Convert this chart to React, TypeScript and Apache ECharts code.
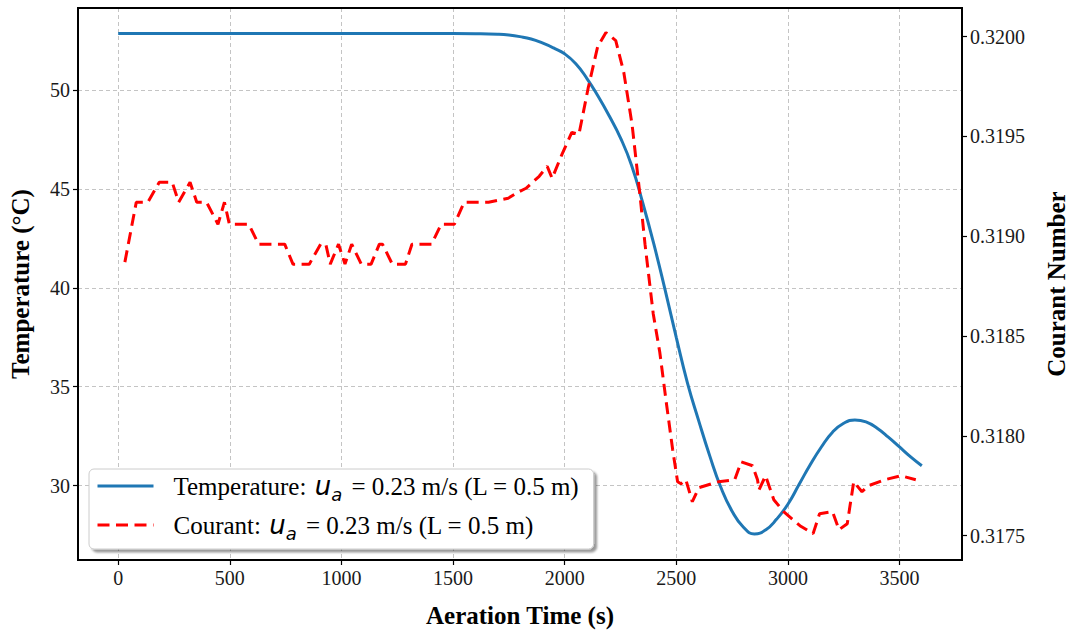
import React, { useEffect, useRef } from "react";
import * as echarts from "echarts";

// Temperature series (time s, temperature °C)
const tempTime = [0, 100, 200, 300, 400, 500, 600, 700, 800, 900, 1000, 1100, 1200, 1300, 1400, 1500, 1600, 1700, 1750, 1800, 1850, 1900, 1950, 2000, 2050, 2100, 2150, 2200, 2250, 2300, 2350, 2400, 2450, 2500, 2550, 2600, 2650, 2700, 2750, 2800, 2850, 2900, 2950, 3000, 3050, 3100, 3150, 3200, 3250, 3300, 3350, 3400, 3450, 3500, 3550, 3600];
const tempValues = [52.88, 52.88, 52.88, 52.88, 52.88, 52.88, 52.88, 52.88, 52.88, 52.88, 52.88, 52.88, 52.88, 52.88, 52.88, 52.88, 52.87, 52.84, 52.8, 52.72, 52.6, 52.4, 52.15, 51.85, 51.35, 50.6, 49.7, 48.7, 47.6, 46.2, 44.3, 42.2, 39.9, 37.5, 35.2, 33.3, 31.5, 29.9, 28.7, 27.9, 27.55, 27.75, 28.3, 29.05, 30.05, 31.05, 31.95, 32.7, 33.15, 33.32, 33.22, 32.9, 32.45, 31.95, 31.45, 31.0];

// Courant series (time s, Courant number)
const courantTime = [30, 81, 133, 184, 242, 271, 322, 352, 396, 447, 476, 498, 585, 629, 746, 783, 856, 907, 930, 950, 987, 1016, 1046, 1089, 1133, 1170, 1184, 1228, 1287, 1316, 1404, 1447, 1506, 1550, 1659, 1747, 1791, 1827, 1886, 1922, 1944, 1988, 2032, 2064, 2105, 2148, 2185, 2229, 2265, 2302, 2338, 2360, 2397, 2426, 2455, 2484, 2506, 2521, 2543, 2572, 2601, 2689, 2762, 2791, 2842, 2864, 2871, 2900, 2937, 2981, 3054, 3113, 3142, 3200, 3229, 3266, 3295, 3332, 3361, 3434, 3507, 3573];
const courantValues = [0.31887, 0.31917, 0.31917, 0.31927, 0.31927, 0.31917, 0.31927, 0.31917, 0.31917, 0.31906, 0.31917, 0.31906, 0.31906, 0.31896, 0.31896, 0.31886, 0.31886, 0.31896, 0.31896, 0.31886, 0.31896, 0.31886, 0.31896, 0.31886, 0.31886, 0.31896, 0.31896, 0.31886, 0.31886, 0.31896, 0.31896, 0.31906, 0.31906, 0.31917, 0.31917, 0.31919, 0.31922, 0.31924, 0.3193, 0.31935, 0.31929, 0.31941, 0.31952, 0.31951, 0.31974, 0.31995, 0.32002, 0.31998, 0.31982, 0.31956, 0.3192, 0.31896, 0.31861, 0.31842, 0.31817, 0.31793, 0.31777, 0.31776, 0.31778, 0.31767, 0.31774, 0.31777, 0.31778, 0.31787, 0.31785, 0.31778, 0.31773, 0.3178, 0.31768, 0.31762, 0.31755, 0.31751, 0.31761, 0.31762, 0.31753, 0.31756, 0.31777, 0.31772, 0.31775, 0.31778, 0.3178, 0.31778];

const xTicks = [0, 500, 1000, 1500, 2000, 2500, 3000, 3500];
const tempName = "Temperature";
const courantName = "Courant";

const SERIF = "'Liberation Serif', 'Times New Roman', serif";
const MATH = "'DejaVu Sans', sans-serif";

export default function App() {
  const ref = useRef<HTMLDivElement>(null);
  useEffect(() => {
    if (!ref.current) return;
    const chart = echarts.init(ref.current, undefined, { renderer: "svg" });
    const tempData = tempTime.map((t, i) => [t, tempValues[i]]);
    const courantData = courantTime.map((t, i) => [t, courantValues[i]]);
    const gridLine = { show: true, showMinLine: false, showMaxLine: false, lineStyle: { color: "#c4c4c4", width: 1, type: [4, 3] as any } };
    const tick = { show: true, inside: false, length: 5, lineStyle: { color: "#000", width: 1.2 } };
    const axisLine = { show: true, onZero: false, lineStyle: { color: "#000", width: 2 } };
    const nameStyle = { fontFamily: SERIF, fontWeight: "bold", fontSize: 25, color: "#000" };
    const legendRich = {
      p: { fontFamily: SERIF, fontSize: 25, color: "#000", lineHeight: 34, padding: [0, 0, 0, 15] },
      t: { fontFamily: SERIF, fontSize: 25, color: "#000", lineHeight: 34 },
      u: { fontFamily: MATH, fontStyle: "italic", fontSize: 26, color: "#000", lineHeight: 34, padding: [0, 0, 0, 2] },
      s: { fontFamily: MATH, fontStyle: "italic", fontSize: 18, color: "#000", lineHeight: 18, verticalAlign: "bottom", padding: [0, 3, 0, 0] },
    };
    chart.setOption({
      animation: false,
      backgroundColor: "#fff",
      grid: { left: 75, right: 99, top: 8, bottom: 61, show: true, borderColor: "#000", borderWidth: 2, containLabel: false },
      xAxis: [
        {
          type: "value",
          min: -180,
          max: 3780,
          minInterval: 500,
          maxInterval: 500,
          name: "Aeration Time (s)",
          nameLocation: "middle",
          nameGap: 43,
          nameTextStyle: nameStyle,
          axisLine,
          axisTick: tick,
          axisLabel: {
            fontFamily: SERIF, fontSize: 20, color: "#1a1a1a", margin: 8,
            showMinLabel: false, showMaxLabel: false,
            formatter: (v: number) => (xTicks.includes(v) ? String(v) : ""),
          },
          splitLine: gridLine,
        },
        {
          type: "value",
          position: "top",
          min: -180,
          max: 3780,
          axisLine,
          axisTick: { show: false },
          axisLabel: { show: false },
          splitLine: { show: false },
        },
      ],
      yAxis: [
        {
          type: "value",
          position: "left",
          min: 26.23,
          max: 54.17,
          minInterval: 5,
          maxInterval: 5,
          name: "Temperature (°C)",
          nameLocation: "middle",
          nameRotate: 90,
          nameGap: 45,
          nameTextStyle: nameStyle,
          axisLine,
          axisTick: tick,
          axisLabel: {
            fontFamily: SERIF, fontSize: 20, color: "#1a1a1a", margin: 8,
            showMinLabel: false, showMaxLabel: false,
            formatter: (v: number) => (Math.abs(v % 5) < 1e-6 ? String(Math.round(v)) : ""),
          },
          splitLine: gridLine,
        },
        {
          type: "value",
          position: "right",
          min: 0.317378,
          max: 0.320143,
          minInterval: 0.0005,
          maxInterval: 0.0005,
          name: "Courant Number",
          nameLocation: "middle",
          nameRotate: 90,
          nameGap: 82,
          nameTextStyle: nameStyle,
          axisLine,
          axisTick: tick,
          axisLabel: {
            fontFamily: SERIF, fontSize: 20, color: "#1a1a1a", margin: 8,
            showMinLabel: false, showMaxLabel: false,
            formatter: (v: number) => v.toFixed(4),
          },
          splitLine: { show: false },
        },
      ],
      legend: {
        left: 89,
        top: 469,
        orient: "vertical",
        padding: [4, 14, 7, 7],
        itemWidth: 56,
        itemHeight: 14,
        itemGap: 9,
        backgroundColor: "#fff",
        borderColor: "#cccccc",
        borderWidth: 1,
        borderRadius: 5,
        shadowColor: "rgba(0,0,0,0.4)",
        shadowBlur: 2,
        shadowOffsetX: 3,
        shadowOffsetY: 3,
        itemStyle: { opacity: 0 },
        lineStyle: { width: 3 },
        data: [tempName, courantName],
        textStyle: { fontFamily: SERIF, fontSize: 25, color: "#000", rich: legendRich },
        formatter: (name: string) =>
          name === tempName
            ? "{p|Temperature: }{u|u}{s|a}{t| = 0.23 m/s (L = 0.5 m)}"
            : "{p|Courant: }{u|u}{s|a}{t| = 0.23 m/s (L = 0.5 m)}",
      },
      series: [
        {
          name: tempName,
          type: "line",
          yAxisIndex: 0,
          data: tempData,
          smooth: true,
          showSymbol: false,
          symbol: "none",
          lineStyle: { color: "#1f77b4", width: 3 },
          itemStyle: { color: "#1f77b4" },
          z: 3,
        },
        {
          name: courantName,
          type: "line",
          yAxisIndex: 1,
          data: courantData,
          showSymbol: false,
          symbol: "none",
          lineStyle: { color: "#ff0000", width: 3, type: [12, 6.5] as any },
          itemStyle: { color: "#ff0000" },
          z: 4,
        },
      ],
    });
    return () => chart.dispose();
  }, []);
  return <div ref={ref} style={{ position: "fixed", left: 0, top: 0, width: 1077, height: 633 }} />;
}
